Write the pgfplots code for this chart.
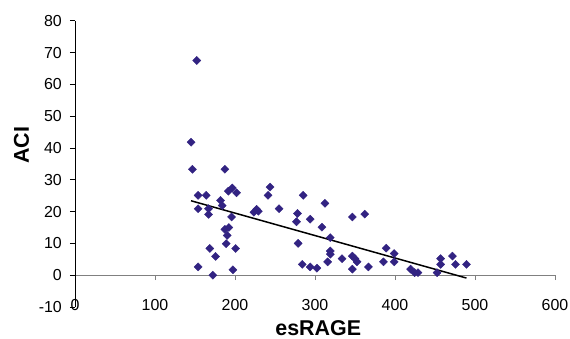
\documentclass[border=0pt]{standalone}
\usepackage{fontspec}
\setmainfont{Liberation Sans}
\usepackage{pgfplots}
\pgfplotsset{compat=1.18}
\definecolor{ptblue}{RGB}{50,35,130}
\definecolor{axgray}{RGB}{128,128,128}
\begin{document}
\begin{tikzpicture}
\begin{axis}[
  at={(0,0)}, anchor=south west,
  scale only axis, width=480bp, height=286.3bp,
  xmin=0, xmax=600, ymin=-10, ymax=80,
  axis y line=left, axis x line=middle,
  axis line style={-},
  x axis line style={axgray, line width=0.8pt},
  y axis line style={black, line width=0.8pt},
  xtick={0,100,...,600}, ytick={-10,0,...,80},
  tick align=outside, major tick length=5bp,
  xtick style={axgray, line width=0.8pt},
  ytick style={black, line width=0.8pt},
  hide obscured x ticks=false, hide obscured y ticks=false,
  /pgf/number format/assume math mode=true,
  tick label style={font=\fontsize{16}{18}\selectfont},
  xticklabel style={anchor=center, yshift=-25bp},
  yticklabel style={anchor=east, inner sep=0pt, xshift=-8bp},
  every axis x label/.style={at={(axis cs:304,-10)}, yshift=-21bp, anchor=center, font=\bfseries\fontsize{21.5}{24}\selectfont},
  every axis y label/.style={at={(axis cs:0,40.8)}, xshift=-53.5bp, rotate=90, anchor=center, font=\bfseries\fontsize{21.5}{24}\selectfont},
  xlabel={esRAGE}, ylabel={ACI},
  clip=false,
]
\addplot[only marks, mark=square*, mark size=2.85bp, mark options={rotate=45, fill=ptblue, draw=ptblue}] coordinates {
(152.2,67.5) (145.1,41.8) (146.8,33.3) (187.4,33.3) (153.9,25.1) (164,25.1)
(153.9,20.9) (166.9,20.9) (166.9,19.1) (181.9,23.5) (184,21.9) (195.7,18.3)
(191.6,26.4) (196.6,27.4) (202,25.9) (187.4,14.4) (192.3,15) (190.3,12.5)
(189,9.9) (168.5,8.4) (175.7,5.9) (200.8,8.4) (153.9,2.6) (172.3,0)
(197.4,1.7) (223.7,19.8) (227.1,20.7) (229.2,20.1) (243.8,27.7) (241.3,25.1)
(255.1,20.9) (285.2,25.1) (278.1,19.4) (276.9,16.8) (294,17.6) (312.4,22.6)
(308.7,15.1) (319.1,11.8) (278.9,10) (319.1,7.6) (319.1,6.6) (315.8,4.2)
(284,3.4) (294,2.6) (302.4,2.2) (333.8,5.2) (346.7,18.3) (362.2,19.2)
(346.7,6) (350,5.2) (352.6,4.2) (346.7,1.9) (366.8,2.6) (389,8.5)
(385.6,4.2) (399,6.8) (399,4.2) (419.5,1.9) (424.5,0.8) (428.7,0.8)
(452.6,0.8) (457,5.2) (457,3.4) (471.8,6) (475.6,3.4) (489.3,3.4)
};
\addplot[black, line width=1.5bp] coordinates {(145,23.4) (489.3,-0.9)};
\end{axis}
\pgfresetboundingbox
\path (-75bp,-32bp) rectangle (495bp,307bp);
\end{tikzpicture}
\end{document}
